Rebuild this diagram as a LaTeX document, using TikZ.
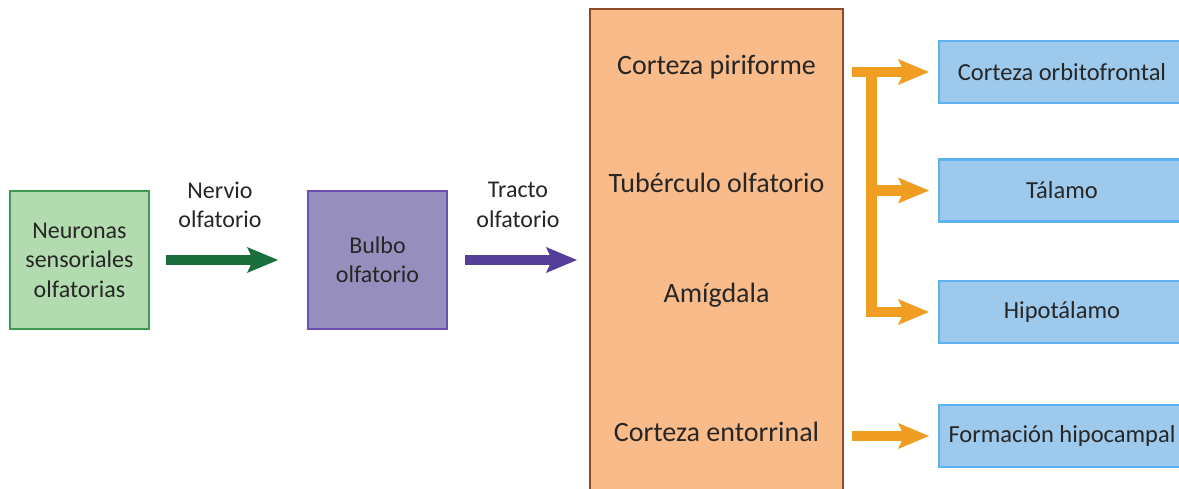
\documentclass[tikz,border=0pt]{standalone}
\usepackage{fontspec}
\setmainfont{Carlito}
\usetikzlibrary{arrows.meta}
\definecolor{txt}{HTML}{262626}
\definecolor{gfill}{HTML}{B3DBB0}
\definecolor{gdraw}{HTML}{3E9A4E}
\definecolor{garrow}{HTML}{1A6F3C}
\definecolor{pfill}{HTML}{968FBD}
\definecolor{pdraw}{HTML}{6A4FB0}
\definecolor{parrow}{HTML}{553E9A}
\definecolor{ofill}{HTML}{F9BB8A}
\definecolor{odraw}{HTML}{8E4B2B}
\definecolor{oarrow}{HTML}{F09E22}
\definecolor{bfill}{HTML}{9DCAEC}
\definecolor{bdraw}{HTML}{5DB3EE}
\begin{document}
\begin{tikzpicture}[x=1pt,y=-1pt,
  every node/.style={text=txt, inner sep=0pt, outer sep=0pt},
  lbl/.style={font=\fontsize{24}{29.5}\selectfont, align=center},
  big/.style={font=\fontsize{28}{34}\selectfont},
  gbox/.style={draw=gdraw, fill=gfill, line width=1.5pt, minimum width=139pt, minimum height=138pt, lbl},
  pbox/.style={draw=pdraw, fill=pfill, line width=1.5pt, minimum width=139pt, minimum height=138pt, lbl},
  obox/.style={draw=odraw, fill=ofill, line width=2pt, minimum width=253pt, minimum height=500pt},
  bbox/.style={draw=bdraw, fill=bfill, line width=2.5pt, minimum width=246pt, minimum height=62pt, font=\fontsize{24.5}{30}\selectfont},
  fat/.style={line width=10.5pt, -{Stealth[length=31pt,width=26pt,inset=6pt,line width=0pt]}},
]
\useasboundingbox (0,0) rectangle (1179,489);
\clip (0,0) rectangle (1179,489);
\fill[white] (0,0) rectangle (1179,489);

\node[gbox] (neur) at (79.5,260) {Neuronas\\sensoriales\\olfatorias};
\node[pbox] (bulbo) at (377.5,260) {Bulbo\\olfatorio};
\node[obox, anchor=north west] (cortex) at (590,9) {};

\node[big] (cp) at (716.5,67) {Corteza piriforme};
\node[big] (tub) at (716.5,183) {Tubérculo olfatorio};
\node[big] (amig) at (716.5,295) {Amígdala};
\node[big] (cent) at (716.5,432) {Corteza entorrinal};

\node[bbox] (cof) at (1062,72) {Corteza orbitofrontal};
\node[bbox] (tal) at (1062,190.5) {Tálamo};
\node[bbox] (hip) at (1062,312) {Hipotálamo};
\node[bbox] (fh) at (1062,436) {Formación hipocampal};

\node[lbl] (nerv) at (220,205) {Nervio\\olfatorio};
\node[lbl] (tract) at (518,205) {Tracto\\olfatorio};

\draw[fat, garrow] ([xshift=17pt]neur.east) -- ([xshift=-30pt]bulbo.west);
\draw[fat, parrow] ([xshift=18pt]bulbo.east) -- ([xshift=-13pt]cortex.west |- bulbo.east);

\coordinate (ostart) at ([xshift=9pt]cortex.east);
\coordinate (jx) at ([xshift=28.5pt]cortex.east);
\draw[fat, oarrow] (ostart |- cof.west) -- ([xshift=-10pt]cof.west);
\draw[fat, oarrow, line join=miter] (jx |- cof.west) |- ([xshift=-10pt]hip.west);
\draw[fat, oarrow] (jx |- tal.west) -- ([xshift=-10pt]tal.west);
\draw[fat, oarrow] (ostart |- fh.west) -- ([xshift=-10pt]fh.west);
\end{tikzpicture}
\end{document}
